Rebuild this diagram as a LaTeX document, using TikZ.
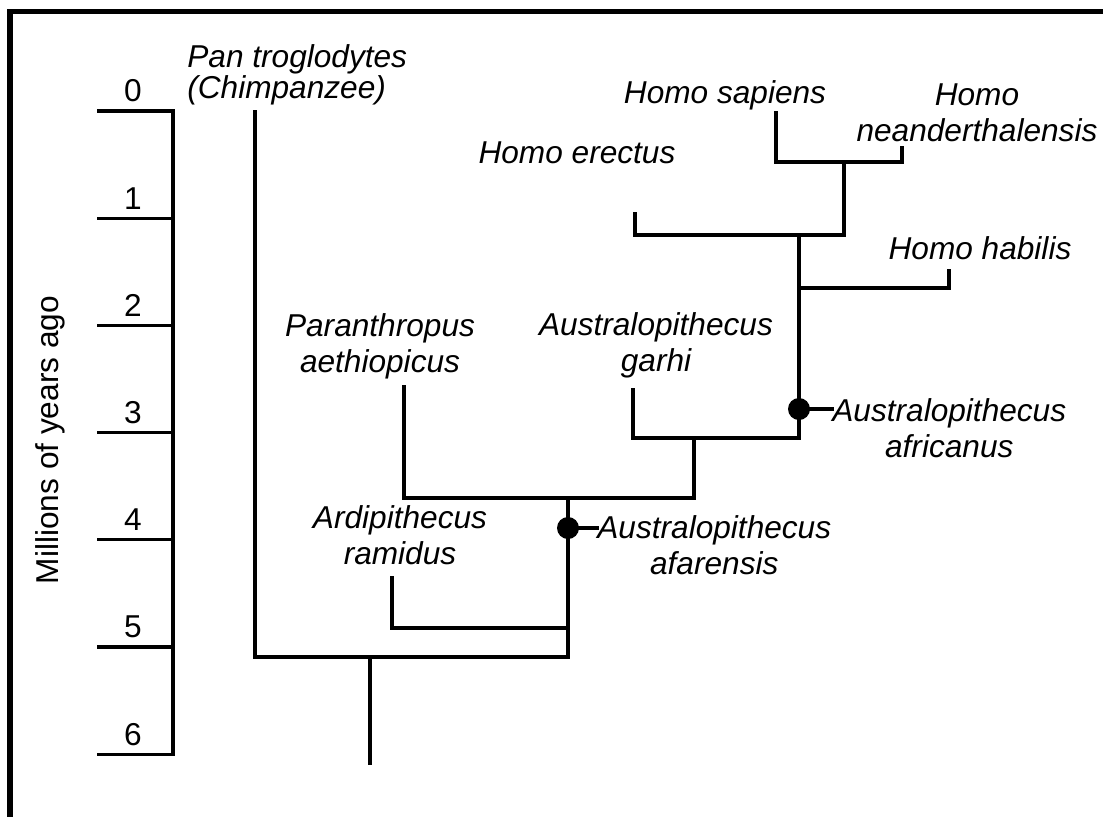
\documentclass[tikz,border=0pt]{standalone}
\usepackage{fontspec}
\setmainfont{Liberation Sans}
\usepackage{tikz}
\usetikzlibrary{positioning}

\begin{document}
\begin{tikzpicture}[
  x=0.02cm, y=-0.02cm,
  branch/.style={line width=1.9pt, line cap=rect},
  taxon/.style={font=\fontsize{18}{20.5}\selectfont\itshape, align=center, inner sep=0pt},
  num/.style={font=\fontsize{18}{20.5}\selectfont, inner sep=0pt},
  dot/.style={circle, fill=black, inner sep=0pt, minimum size=22*0.02cm},
]
\useasboundingbox (0,0) rectangle (1103,816);
% frame (only left and top edges show)
\draw[line width=2.85pt] (10,820) -- (10,11) -- (1110,11);

% time axis
\coordinate (ax0) at (173,111);
\coordinate (ax6) at (173,754);
\draw[branch] (ax0) -- (ax6);
\foreach \i in {0,...,6} {
  \coordinate (tk\i) at (173,111+107.2*\i);
  \coordinate (tl\i) at (99,111+107.2*\i);
  \draw[branch] (tl\i) -- (tk\i);
  \node[num] (n\i) at (133,91+107.2*\i) {\i};
}
\node[num, rotate=90] (axtitle) at (50,440) {Millions of years ago};

% labels
\node[taxon, anchor=west, align=left, font=\fontsize{18}{18}\selectfont\itshape] (pan) at (187,75) {Pan troglodytes\\(Chimpanzee)};
\node[taxon] (sap) at (725,95) {Homo sapiens};
\node[taxon] (nea) at (977,113) {Homo\\neanderthalensis};
\node[taxon] (ere) at (577,153) {Homo erectus};
\node[taxon] (hab) at (980,248) {Homo habilis};
\node[taxon] (par) at (380,346) {Paranthropus\\aethiopicus};
\node[taxon] (gar) at (656,345) {Australopithecus\\garhi};
\node[taxon, anchor=west] (afr) at (832,428) {Australopithecus\\africanus};
\node[taxon] (ard) at (400,535) {Ardipithecus\\ramidus};
\node[taxon, anchor=west] (afa) at (597,545) {Australopithecus\\afarensis};

% branch points and tips
\coordinate (rootb) at (370,763);
\coordinate (root) at (370,657);
\coordinate (pantip) at (255,112);
\coordinate (mainr) at (568,657);
\coordinate (ardtip) at (392,578);
\coordinate (ardj) at (568,628);
\coordinate (afaj) at (568,498);
\coordinate (partip) at (404,387);
\coordinate (garj) at (694,498);
\coordinate (garb) at (694,438);
\coordinate (gartip) at (633,390);
\coordinate (afrj) at (799,438);
\coordinate (homj) at (799,235);
\coordinate (habj) at (799,288);
\coordinate (habtip) at (949,271);
\coordinate (eretip) at (635,214);
\coordinate (erej) at (844,235);
\coordinate (sapj) at (844,162);
\coordinate (saptip) at (776,113);
\coordinate (neatip) at (902,148);

\node[dot] (afadot) at (568,528) {};
\node[dot] (afrdot) at (799,409) {};

% tree
\draw[branch] (rootb) -- (root);
\draw[branch] (pantip) |- (mainr) -- (afaj);
\draw[branch] (ardtip) |- (ardj);
\draw[branch] (partip) |- (garj) -- (garb);
\draw[branch] (gartip) |- (afrj) -- (homj);
\draw[branch] (habj) -| (habtip);
\draw[branch] (eretip) |- (erej) -- (sapj);
\draw[branch] (saptip) |- (sapj -| neatip) -- (neatip);
\draw[branch] (afadot) -- (afadot -| afa.west);
\draw[branch] (afrdot) -- (afrdot -| afr.west);
\end{tikzpicture}
\end{document}
